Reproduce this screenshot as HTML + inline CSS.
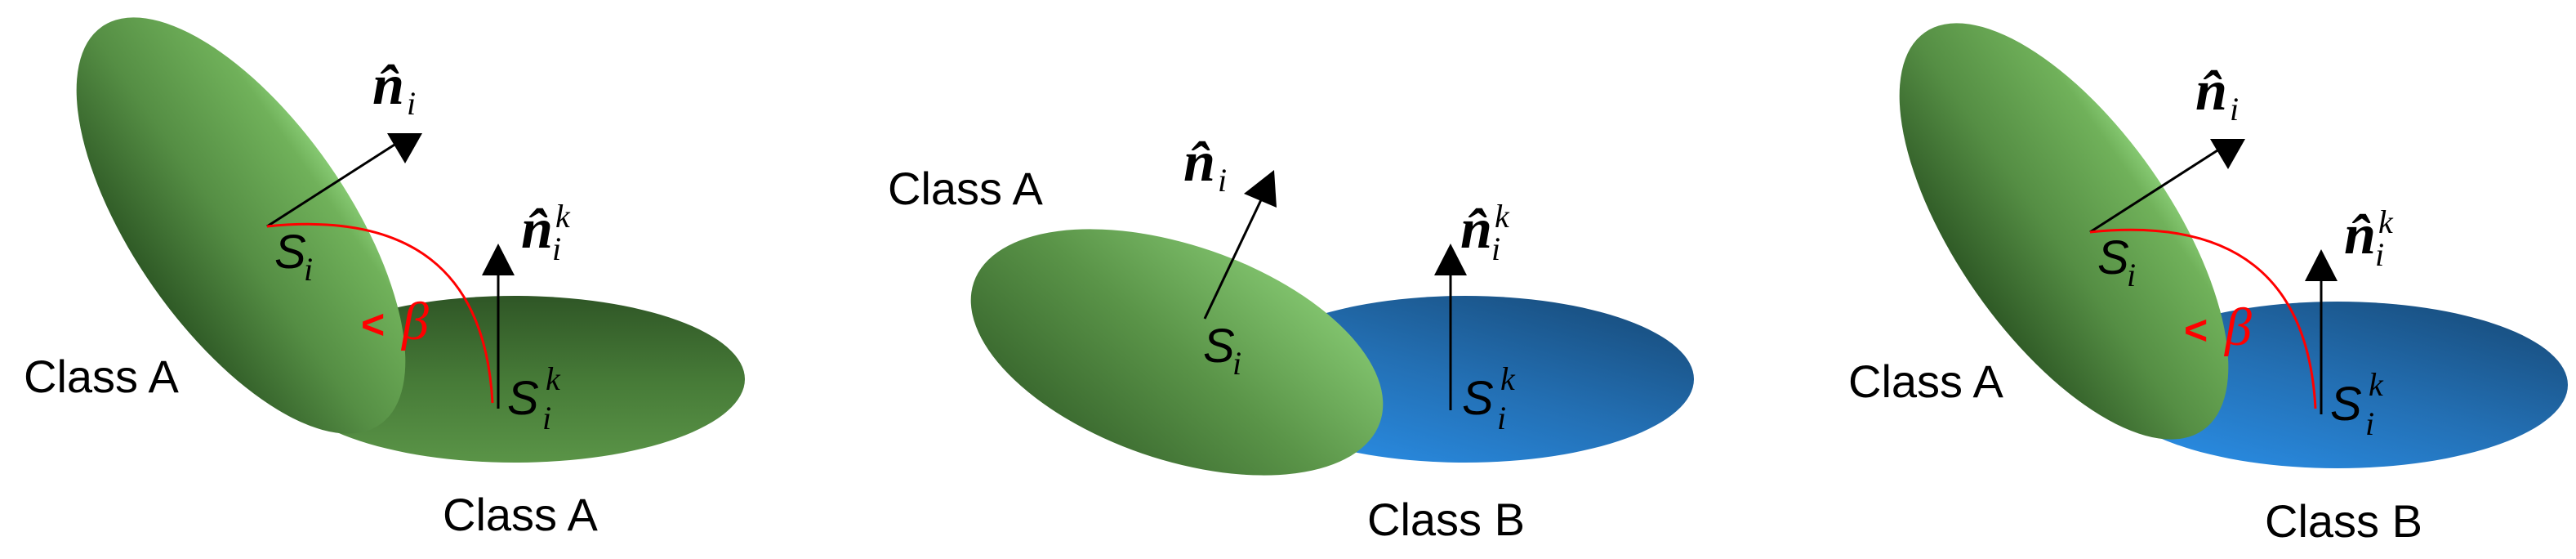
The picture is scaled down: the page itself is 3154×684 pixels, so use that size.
<!DOCTYPE html>
<html><head><meta charset="utf-8"><style>
html,body{margin:0;padding:0;background:#fff}
svg{display:block}
.cls{font-family:"Liberation Sans",sans-serif;font-size:56px;fill:#000}
.S{font-family:"Liberation Sans",sans-serif;font-style:italic;font-size:58px;fill:#000}
.sub{font-family:"Liberation Serif",serif;font-style:italic;font-size:40px;fill:#000}
.n{font-family:"Liberation Serif",serif;font-style:italic;font-weight:bold;font-size:70px;fill:#000}
.red{font-family:"Liberation Sans",sans-serif;font-weight:bold;font-size:50px;fill:#f00}
.beta{font-family:"Liberation Serif",serif;font-style:italic;font-size:66px;fill:#f00}
</style></head><body>
<svg width="3154" height="684" viewBox="0 0 3154 684" xmlns="http://www.w3.org/2000/svg">
<defs>
<linearGradient id="gt" x1="0" y1="0" x2="1" y2="0">
<stop offset="0" stop-color="#2f5a26"/><stop offset="0.45" stop-color="#558e44"/><stop offset="0.9" stop-color="#70b15a"/><stop offset="1" stop-color="#86c972"/></linearGradient>
<linearGradient id="gf" x1="0" y1="0" x2="0" y2="1">
<stop offset="0" stop-color="#2f5626"/><stop offset="0.5" stop-color="#467a37"/><stop offset="1" stop-color="#5a9447"/></linearGradient>
<linearGradient id="bf" x1="0.1" y1="1" x2="0.9" y2="0">
<stop offset="0" stop-color="#2a8fe8"/><stop offset="0.5" stop-color="#236fb3"/><stop offset="1" stop-color="#174a78"/></linearGradient>
<linearGradient id="g2" x1="0" y1="1" x2="0.8" y2="0">
<stop offset="0" stop-color="#2f5a26"/><stop offset="0.55" stop-color="#5a9448"/><stop offset="1" stop-color="#86c972"/></linearGradient>
</defs>

<!-- Panel 1 -->
<g>
<ellipse cx="630" cy="464" rx="282" ry="102" fill="url(#gf)"/>
<g transform="rotate(-35 295 276)"><ellipse cx="295" cy="276" rx="131" ry="297" fill="url(#gt)"/></g>
<line x1="327" y1="277" x2="494" y2="170" stroke="#000" stroke-width="3"/>
<polygon points="474,163 517,163 496,200" fill="#000"/>
<path d="M327,277 Q590,250 603,493" fill="none" stroke="#f00" stroke-width="3"/>
<line x1="610" y1="500" x2="610" y2="330" stroke="#000" stroke-width="3"/>
<polygon points="610,298 590,337 630,337" fill="#000"/>
<text class="n" x="456" y="127">n̂</text><text class="sub" x="498" y="140">i</text>
<text class="n" x="638" y="303">n̂</text><text class="sub" x="680" y="278">k</text><text class="sub" x="676" y="318">i</text>
<text class="S" x="336" y="328">S</text><text class="sub" x="372" y="343">i</text>
<text class="S" x="621" y="507">S</text><text class="sub" x="668" y="477">k</text><text class="sub" x="664" y="525">i</text>
<text class="red" x="442" y="414">&lt;</text><text class="beta" x="492" y="415">β</text>
<text class="cls" x="29" y="480">Class A</text>
<text class="cls" x="542" y="649">Class A</text>
</g>

<!-- Panel 2 -->
<g>
<ellipse cx="1794" cy="464" rx="280" ry="102" fill="url(#bf)"/>
<g transform="rotate(19 1441 431)"><ellipse cx="1441" cy="431" rx="263" ry="131" fill="url(#g2)"/></g>
<line x1="1475" y1="390" x2="1550" y2="232" stroke="#000" stroke-width="3"/>
<polygon points="1560,208 1563,254 1523,237" fill="#000"/>
<line x1="1776" y1="502" x2="1776" y2="330" stroke="#000" stroke-width="3"/>
<polygon points="1776,298 1756,337 1796,337" fill="#000"/>
<text class="n" x="1449" y="221">n̂</text><text class="sub" x="1491" y="234">i</text>
<text class="n" x="1788" y="303">n̂</text><text class="sub" x="1830" y="278">k</text><text class="sub" x="1826" y="318">i</text>
<text class="S" x="1473" y="443">S</text><text class="sub" x="1509" y="458">i</text>
<text class="S" x="1790" y="507">S</text><text class="sub" x="1837" y="477">k</text><text class="sub" x="1833" y="525">i</text>
<text class="cls" x="1087" y="250">Class A</text>
<text class="cls" x="1674" y="655">Class B</text>
</g>

<!-- Panel 3 -->
<g transform="translate(2232,7)">
<ellipse cx="630" cy="464" rx="282" ry="102" fill="url(#bf)"/>
<g transform="rotate(-35 295 276)"><ellipse cx="295" cy="276" rx="131" ry="297" fill="url(#gt)"/></g>
<line x1="327" y1="277" x2="494" y2="170" stroke="#000" stroke-width="3"/>
<polygon points="474,163 517,163 496,200" fill="#000"/>
<path d="M327,277 Q590,250 603,493" fill="none" stroke="#f00" stroke-width="3"/>
<line x1="610" y1="500" x2="610" y2="330" stroke="#000" stroke-width="3"/>
<polygon points="610,298 590,337 630,337" fill="#000"/>
<text class="n" x="456" y="127">n̂</text><text class="sub" x="498" y="140">i</text>
<text class="n" x="638" y="303">n̂</text><text class="sub" x="680" y="278">k</text><text class="sub" x="676" y="318">i</text>
<text class="S" x="336" y="328">S</text><text class="sub" x="372" y="343">i</text>
<text class="S" x="621" y="507">S</text><text class="sub" x="668" y="477">k</text><text class="sub" x="664" y="525">i</text>
<text class="red" x="442" y="414">&lt;</text><text class="beta" x="492" y="415">β</text>
<text class="cls" x="31" y="479">Class A</text>
<text class="cls" x="541" y="650">Class B</text>
</g>
</svg>
</body></html>
